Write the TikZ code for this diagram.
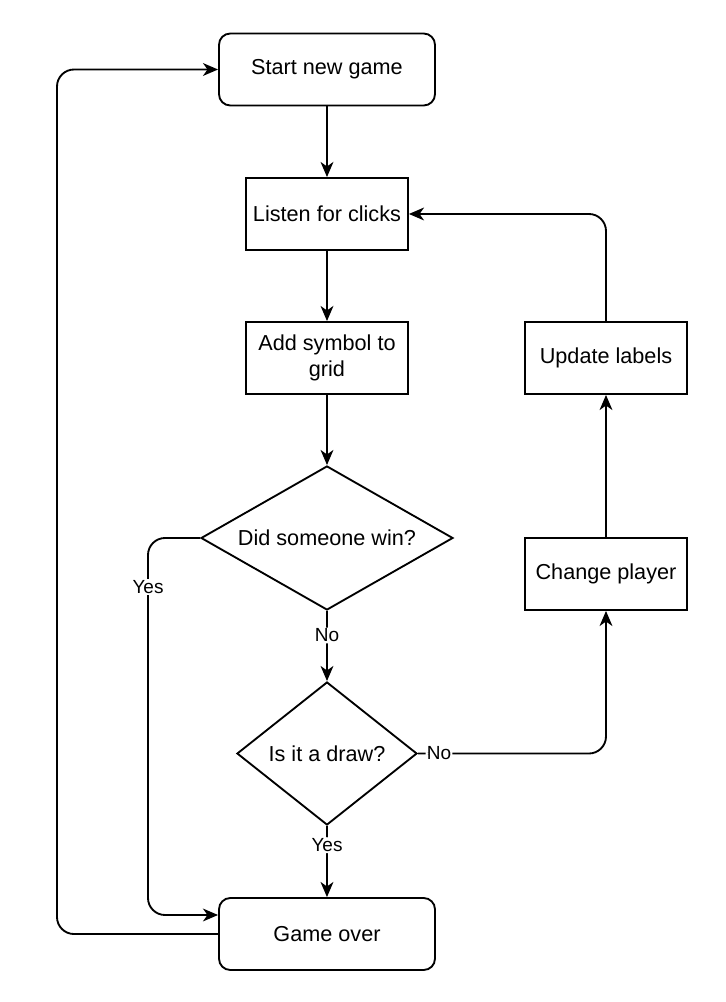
\documentclass[tikz,border=0pt]{standalone}
\usepackage{fontspec}
\setmainfont{Liberation Sans}
\usetikzlibrary{positioning,shapes.geometric,arrows.meta}
\tikzset{>={Stealth[length=4mm,width=3.4mm,inset=1.2mm]}}
\tikzset{
  box/.style={rectangle, draw, sharp corners, line width=1.4pt, fill=white, minimum width=4.286cm, minimum height=1.905cm, align=center, font=\fontsize{16.3}{19.5}\selectfont},
  roundbox/.style={box, rounded corners=0.3cm, minimum width=5.715cm},
  decision/.style={diamond, draw, sharp corners, line width=1.4pt, fill=white, inner sep=0pt, align=center, font=\fontsize{16.3}{19.5}\selectfont},
  lbl/.style={fill=white, inner sep=1pt, font=\fontsize{14.3}{17}\selectfont}
}

\begin{document}
\begin{tikzpicture}[line width=1.4pt, rounded corners=0.45cm]
      \useasboundingbox (-8.652,1.839) rectangle (10.557,-24.673);
      \node[roundbox] (n0) at (0,0) {Start new game};
      \node[box, below of=n0, node distance=3.823cm] (n1) {Listen for clicks};
      \node[box, below of=n1, node distance=3.810cm] (n2) {Add symbol to\\grid};
      \node[decision, aspect=1.75, minimum width=6.667cm, minimum height=3.810cm, below of=n2, node distance=4.763cm] (n3) {Did someone win?};
      \node[decision, aspect=1.26, minimum width=4.763cm, minimum height=3.784cm, below of=n3, node distance=5.702cm] (n4) {Is it a draw?};
      \node[roundbox, below of=n4, node distance=4.776cm] (n5) {Game over};
      \node[box, right of=n2, node distance=7.382cm] (n6) {Update labels};
      \node[box, below of=n6, node distance=5.715cm] (n7) {Change player};
      \coordinate[left of=n3, node distance=4.736cm] (aux1);
      \coordinate[left of=n5, node distance=7.144cm] (aux2);
      \coordinate (aux3) at ([yshift=0.503cm]n5.west);
      \draw[->] (n0) to (n1);
      \draw[->] (n1) to (n2);
      \draw[->] (n2) to (n3);
      \draw[->] (n3) to node[lbl, pos=0.35]{No} (n4);
      \draw[->] (n4) to node[lbl, pos=0.27]{Yes} (n5);
      \draw[->] (n4.east) -| node[lbl, pos=0.056]{No} (n7.south);
      \draw[->] (n7) to (n6);
      \draw[->] (n6.north) |- (n1.east);
      \draw[->] (n3.west) -- (aux1) |- node[lbl, pos=0.065]{Yes} (aux3);
      \draw[->] (n5.west) -- (aux2) |- (n0.west);
    \end{tikzpicture}
\end{document}
